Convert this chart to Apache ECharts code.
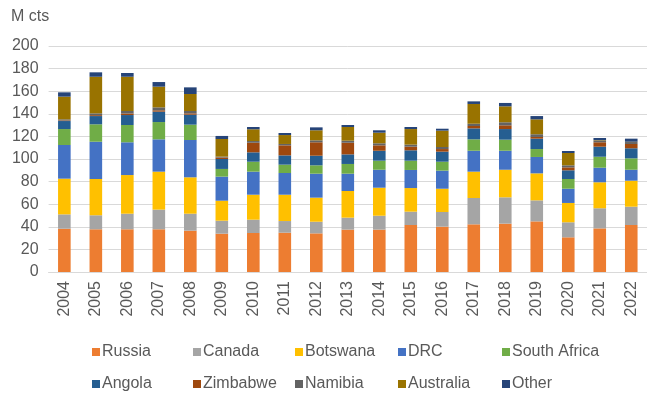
<!DOCTYPE html>
<html>
<head>
<meta charset="utf-8">
<script src="https://cdn.jsdelivr.net/npm/echarts@6/dist/echarts.min.js"></script>
<style>
  html, body { margin: 0; padding: 0; background: #fff; }
  #chart { width: 647px; height: 394px; }
</style>
</head>
<body>
<div id="chart"></div>
<script>
// Rough diamond production by country, million carats
const years = ['2004','2005','2006','2007','2008','2009','2010','2011','2012','2013',
               '2014','2015','2016','2017','2018','2019','2020','2021','2022'];

const russia    = [38.3, 37.8, 37.8, 37.8, 36.6, 33.9, 34.5, 34.8, 34.2, 37.5, 37.5, 41.6, 40.1, 42.2, 42.8, 44.8, 30.7, 38.6, 41.6];
const canada    = [12.7, 12.4, 13.8, 17.4, 15.0, 11.5, 11.8, 10.3, 10.3, 10.6, 12.3, 11.8, 13.0, 23.3, 23.3, 18.6, 13.3, 17.8, 16.2];
const botswana  = [31.6, 32.1, 34.2, 33.6, 32.2, 17.7, 22.1, 23.3, 21.3, 23.6, 24.8, 20.9, 20.6, 23.3, 24.4, 23.9, 17.1, 23.0, 23.0];
const drc       = [29.8, 33.0, 29.0, 28.6, 33.0, 21.3, 20.4, 19.2, 21.2, 15.3, 15.9, 16.0, 16.0, 18.5, 16.8, 14.5, 12.6, 12.9, 9.7];
const southAfrica = [14.1, 15.4, 15.3, 15.3, 13.6, 6.8, 8.8, 7.4, 7.4, 8.6, 8.0, 8.2, 7.9, 10.1, 9.8, 7.0, 8.6, 9.7, 10.1];
const angola    = [7.1, 7.3, 8.8, 9.2, 8.8, 8.8, 8.3, 8.2, 8.5, 8.5, 8.8, 9.2, 8.9, 9.7, 9.4, 9.2, 7.7, 8.9, 8.9];
const zimbabwe  = [0.5, 0.8, 1.4, 1.2, 1.2, 1.3, 8.5, 8.9, 11.9, 10.3, 4.8, 3.2, 2.3, 2.1, 3.3, 1.5, 2.6, 3.9, 3.8];
const namibia   = [1.0, 1.6, 2.2, 2.6, 2.1, 0.8, 1.5, 1.2, 1.7, 1.8, 1.8, 1.8, 1.8, 2.0, 2.7, 2.4, 1.8, 1.7, 1.7];
const australia = [20.1, 32.4, 30.3, 18.3, 15.0, 15.6, 10.4, 7.9, 8.9, 12.1, 9.4, 13.8, 14.5, 17.5, 14.1, 13.2, 10.9, 0.3, 0.3];
const other     = [3.8, 3.9, 3.3, 4.1, 5.9, 2.7, 2.0, 1.8, 2.6, 1.8, 2.1, 1.8, 1.7, 2.3, 3.0, 2.9, 1.8, 1.8, 2.7];

const yTicks = { min: 0, max: 200, step: 20 };

const seriesDefs = [
  { name: 'Russia',       data: russia,      color: '#ED7D31' },
  { name: 'Canada',       data: canada,      color: '#A5A5A5' },
  { name: 'Botswana',     data: botswana,    color: '#FFC000' },
  { name: 'DRC',          data: drc,         color: '#4472C4' },
  { name: 'South Africa', data: southAfrica, color: '#70AD47' },
  { name: 'Angola',       data: angola,      color: '#255E91' },
  { name: 'Zimbabwe',     data: zimbabwe,    color: '#9E480E' },
  { name: 'Namibia',      data: namibia,     color: '#636363' },
  { name: 'Australia',    data: australia,   color: '#997300' },
  { name: 'Other',        data: other,       color: '#264478' }
];

const textColor = '#595959';
const font = 'Liberation Sans, Arial, sans-serif';

// Legend laid out as a 5-column grid: one legend component per entry
const legendCols = [92, 193, 295, 398, 502];
const legendRows = [344, 376];
const legends = seriesDefs.map((s, i) => ({
  data: [s.name],
  left: legendCols[i % 5],
  top: legendRows[Math.floor(i / 5)],
  icon: 'rect',
  itemWidth: 8,
  itemHeight: 8,
  itemGap: 0,
  padding: 0,
  selectedMode: false,
  textStyle: { color: textColor, fontSize: 16, fontFamily: font, padding: [0, 0, 0, -3] }
}));

const chart = echarts.init(document.getElementById('chart'), null, { renderer: 'canvas' });

chart.setOption({
  animation: false,
  backgroundColor: '#fff',
  title: {
    text: 'M cts',
    left: 6,
    top: 4,
    textStyle: { color: textColor, fontSize: 16, fontWeight: 'normal', fontFamily: font }
  },
  legend: legends,
  grid: { left: 48.6, top: 46, width: 603.7, bottom: 122, containLabel: false },
  xAxis: {
    type: 'category',
    data: years,
    axisLine: { lineStyle: { color: '#D9D9D9', width: 1 } },
    axisTick: { show: false },
    axisLabel: { rotate: 90, margin: 9, color: textColor, fontSize: 16, fontFamily: font, interval: 0 }
  },
  yAxis: {
    type: 'value',
    min: yTicks.min,
    max: yTicks.max,
    interval: yTicks.step,
    axisLine: { show: false },
    axisTick: { show: false },
    axisLabel: { margin: 10, color: textColor, fontSize: 16, fontFamily: font },
    splitLine: { lineStyle: { color: '#D9D9D9', width: 1 } }
  },
  series: seriesDefs.map(s => ({
    name: s.name,
    type: 'bar',
    stack: 'total',
    data: s.data,
    barWidth: 12.6,
    itemStyle: { color: s.color },
    emphasis: { disabled: true }
  }))
});
</script>
</body>
</html>
